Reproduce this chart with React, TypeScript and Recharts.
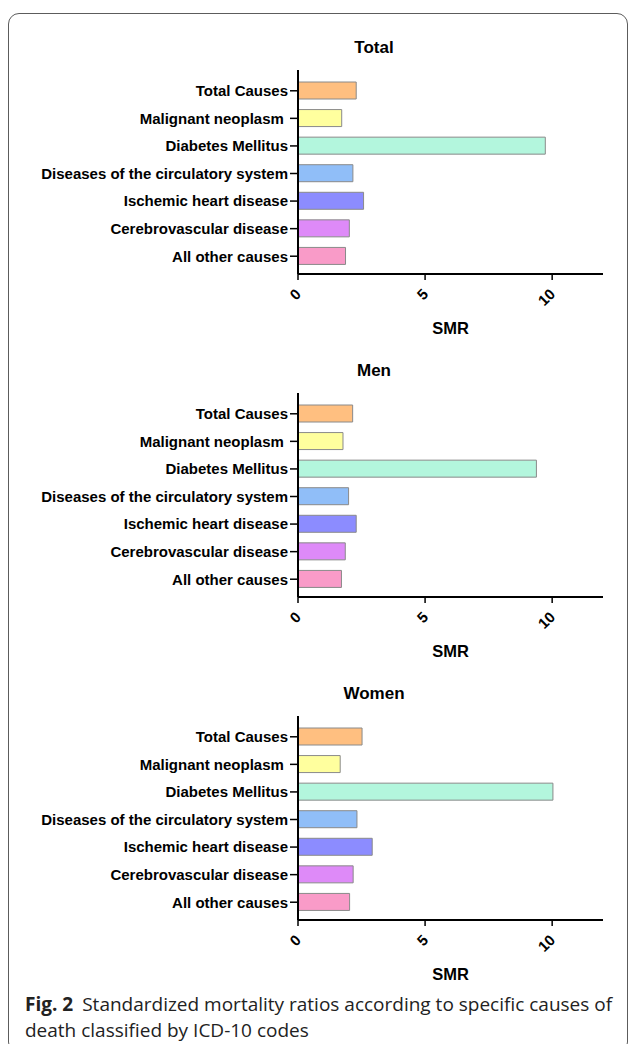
import { BarChart, Bar, XAxis, YAxis, Cell } from 'recharts'

// Causes of death (ICD-10 groups), top to bottom
const causes = [
  'Total Causes',
  'Malignant neoplasm\u00A0',
  'Diabetes Mellitus',
  'Diseases of the circulatory system',
  'Ischemic heart disease',
  'Cerebrovascular disease',
  'All other causes',
]

// SMR
const totalSMR = [2.29, 1.72, 9.73, 2.16, 2.58, 2.02, 1.87]
const menSMR = [2.15, 1.77, 9.38, 1.99, 2.29, 1.86, 1.71]
const womenSMR = [2.52, 1.66, 10.03, 2.32, 2.92, 2.17, 2.03]

const xTicks = [0, 5, 10]

const barColors = [
  '#FFBF80', // orange
  '#FFFF9E', // yellow
  '#B3F6DD', // mint
  '#90BEF8', // light blue
  '#8C8CFF', // periwinkle
  '#DE8AF8', // violet
  '#F99BC8', // pink
]

const FONT = '"Liberation Sans", Arial, sans-serif'

// rotated x tick label, end anchored under the tick
function XTick({ x, y, payload }: any) {
  return (
    <text
      transform={`translate(${x + 4},${y + 13}) rotate(-45)`}
      textAnchor="end"
      fontFamily={FONT}
      fontWeight="bold"
      fontSize={15}
      fill="#000"
    >
      {payload.value}
    </text>
  )
}

function Panel({ title, values, top }: { title: string; values: number[]; top: number }) {
  const data = causes.map((cause, i) => ({ cause, smr: values[i] }))

  return (
    <>
      <div
        style={{
          position: 'absolute',
          left: 274,
          width: 200,
          top: top - 32,
          height: 20,
          lineHeight: '20px',
          textAlign: 'center',
          fontFamily: FONT,
          fontWeight: 'bold',
          fontSize: 17,
        }}
      >
        {title}
      </div>
      <div style={{ position: 'absolute', left: 0, top: top - 10 }}>
        <BarChart
          width={629}
          height={280}
          data={data}
          layout="vertical"
          margin={{ top: 10, right: 26, bottom: 6, left: 0 }}
        >
          <XAxis
            type="number"
            domain={[0, 12]}
            ticks={xTicks}
            interval={0}
            height={60}
            axisLine={{ stroke: '#000', strokeWidth: 2 }}
            tickLine={{ stroke: '#000', strokeWidth: 1.5 }}
            tickSize={6}
            tick={<XTick />}
            label={{
              value: 'SMR',
              position: 'insideBottom',
              offset: 0,
              fontFamily: FONT,
              fontWeight: 'bold',
              fontSize: 16.5,
              fill: '#000',
            }}
          />
          <YAxis
            type="category"
            dataKey="cause"
            width={298}
            interval={0}
            padding={{ top: 7, bottom: 4 }}
            axisLine={{ stroke: '#000', strokeWidth: 2 }}
            tickLine={{ stroke: '#000', strokeWidth: 1.5 }}
            tickSize={8}
            tick={{ fontFamily: FONT, fontWeight: 'bold', fontSize: 15, fill: '#000' }}
          />
          <Bar dataKey="smr" barSize={17} stroke="#8a8a8a" strokeWidth={1} isAnimationActive={false}>
            {data.map((_d, i) => (
              <Cell key={`cell-${i}`} fill={barColors[i % barColors.length]} />
            ))}
          </Bar>
        </BarChart>
      </div>
    </>
  )
}

export default function App() {
  return (
    <div style={{ position: 'absolute', left: 0, top: 0, width: 629, height: 1044, overflow: 'hidden', background: '#fff' }}>
      <div
        style={{
          position: 'absolute',
          left: 8,
          top: 13,
          width: 620,
          height: 1040,
          boxSizing: 'border-box',
          border: '1.5px solid #5c5c5c',
          borderRadius: 11,
        }}
      />
      <Panel title="Total" values={totalSMR} top={70} />
      <Panel title="Men" values={menSMR} top={393} />
      <Panel title="Women" values={womenSMR} top={716} />
      <div
        style={{
          position: 'absolute',
          left: 25,
          top: 991,
          width: 600,
          fontFamily: '"Open Sans", "Noto Sans", sans-serif',
          fontSize: 19,
          lineHeight: '26px',
          color: '#222',
        }}
      >
        <span style={{ display: 'inline-block', fontWeight: 'bold', marginRight: 9 }}>Fig. 2</span>
        <span>Standardized mortality ratios according to specific causes of death classified by ICD-10 codes</span>
      </div>
    </div>
  )
}
